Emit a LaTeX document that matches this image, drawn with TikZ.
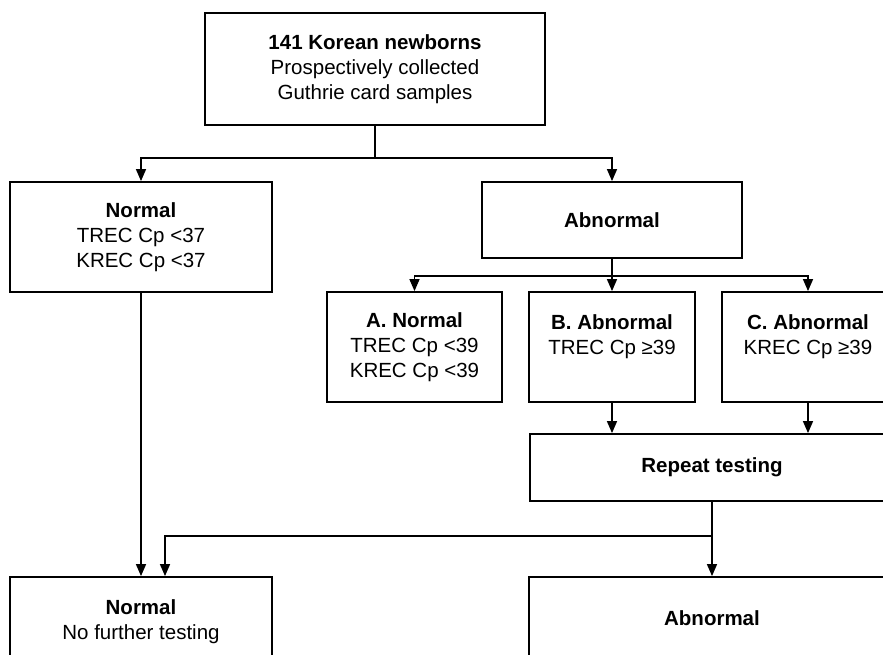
\documentclass[tikz,border=0pt]{standalone}
\usepackage{fontspec}
\setmainfont{Liberation Sans}
\usetikzlibrary{positioning,calc,arrows.meta}

\tikzset{
  box/.style={draw, line width=1.8pt, inner sep=0pt, align=center, fill=white},
  arr/.style={line width=1.4pt, -{Triangle[length=12pt,width=10pt]}},
  conn/.style={line width=1.4pt}
}

\begin{document}
\begin{tikzpicture}[x=1pt, y=-1pt, font=\fontsize{20.5}{25}\selectfont]
  \path[use as bounding box] (0,0) rectangle (883,655);
  \clip (0,0) rectangle (883,655);
  \fill[white] (0,0) rectangle (883,655);

  % Top box
  \node[box, minimum width=340pt, minimum height=112pt] (top) at (375,69)
    {\textbf{141 Korean newborns}\\Prospectively collected\\Guthrie card samples};

  % First screening
  \node[box, minimum width=262pt, minimum height=110pt] (norm1) at (141,237)
    {\textbf{Normal}\\TREC Cp <37\\KREC Cp <37};
  \node[box, minimum width=260pt, minimum height=76pt] (abn1) at (612,220)
    {\textbf{Abnormal}};

  % Retest of abnormal samples
  \node[box, minimum width=175pt, minimum height=110pt] (nA) at (414.5,347)
    {\textbf{A. Normal}\\TREC Cp <39\\KREC Cp <39};
  \node[box, minimum width=166pt, minimum height=110pt] (nB) at (612,347)
    {\textbf{B. Abnormal}\\TREC Cp ≥39\\\mbox{}};
  \node[box, minimum width=172pt, minimum height=110pt] (nC) at (808,347)
    {\textbf{C. Abnormal}\\KREC Cp ≥39\\\mbox{}};
  \node[box, minimum width=364pt, minimum height=67pt] (rep) at (712,467.5)
    {\textbf{Repeat testing}};

  % Final result
  \node[box, minimum width=262pt, minimum height=110pt] (norm2) at (141,632)
    {\textbf{Normal}\\No further testing\\\mbox{}};
  \node[box, minimum width=366pt, minimum height=82pt] (abn2) at (712,618)
    {\textbf{Abnormal}};

  % Connectors
  \draw[arr] (top.south) -- ++(0,32) -| (norm1.north);
  \draw[arr] (top.south) -- ++(0,32) -| (abn1.north);
  \draw[arr] (abn1.south) -- ++(0,17) -| (nA.north);
  \draw[arr] (abn1.south) -- (nB.north);
  \draw[arr] (abn1.south) -- ++(0,17) -| (nC.north);
  \draw[arr] (nB.south) -- (nB.south |- rep.north);
  \draw[arr] (nC.south) -- (nC.south |- rep.north);
  \draw[arr] (norm1.south) -- (norm2.north);
  \draw[arr] (rep.south) -- ++(0,34) -| ([xshift=24pt]norm2.north);
  \draw[arr] (rep.south) -- (abn2.north);
\end{tikzpicture}
\end{document}
